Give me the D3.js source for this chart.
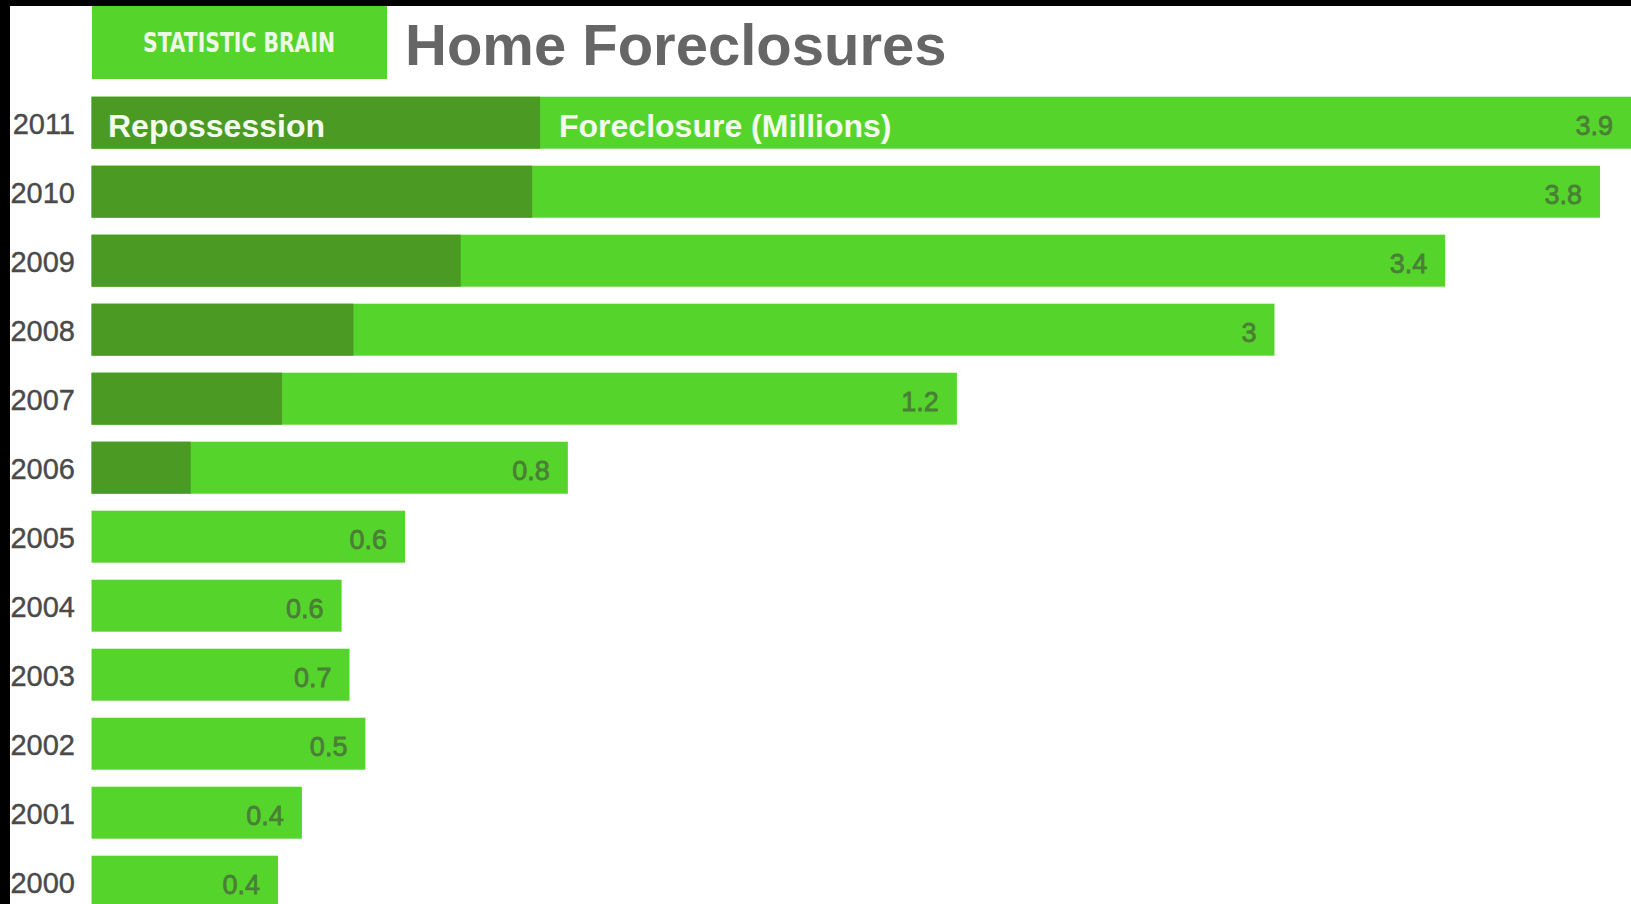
<!DOCTYPE html>
<html>
<head>
<meta charset="utf-8">
<script src="https://cdn.jsdelivr.net/npm/d3@7"></script>
<style>
  html, body { margin: 0; padding: 0; background: #000; }
  svg { display: block; }
</style>
</head>
<body>
<svg width="1631" height="904"></svg>
<script>
// data, top bar first
var years = ['2011','2010','2009','2008','2007','2006','2005','2004','2003','2002','2001','2000'];
// bar lengths as drawn in the picture (millions)
var foreclosure = [3.92, 3.8, 3.41, 2.98, 2.18, 1.2, 0.79, 0.63, 0.65, 0.69, 0.53, 0.47];
var repossession = [1.13, 1.11, 0.93, 0.66, 0.48, 0.25, 0, 0, 0, 0, 0, 0];
// printed values
var labels = ['3.9','3.8','3.4','3','1.2','0.8','0.6','0.6','0.7','0.5','0.4','0.4'];

var rows = years.map(function(y, i) {
    return {year: y, fore: foreclosure[i], repo: repossession[i], label: labels[i]};
});

var bright = '#55d52b';
var dark = '#4a9a24';

var svg = d3.select('svg');

// white page with black frame at top and left
svg.append('rect')
    .attr('x', 10).attr('y', 6)
    .attr('width', 1621).attr('height', 898)
    .attr('fill', 'white');

var x = d3.scaleLinear().domain([0, 3.8]).range([91.5, 1600]);
var pi = 17 / 69;
var y = d3.scaleBand().domain(years)
    .range([96.7, 96.7 + 69 * (12 - pi)])
    .paddingInner(pi).paddingOuter(0);

// header
svg.append('rect')
    .attr('x', 92).attr('y', 6)
    .attr('width', 295).attr('height', 73)
    .attr('fill', bright);

svg.append('text')
    .attr('x', 239).attr('y', 52)
    .attr('text-anchor', 'middle')
    .attr('font-family', '"Liberation Sans Narrow", "DejaVu Sans Condensed", sans-serif')
    .attr('font-weight', 'bold')
    .attr('font-size', 27)
    .attr('textLength', 192)
    .attr('lengthAdjust', 'spacingAndGlyphs')
    .attr('fill', '#eef8e6')
    .text('STATISTIC BRAIN');

svg.append('text')
    .attr('x', 405).attr('y', 65)
    .attr('font-family', '"Liberation Sans", Arial, sans-serif')
    .attr('font-weight', 'bold')
    .attr('font-size', 58)
    .attr('fill', '#666')
    .text('Home Foreclosures');

var g = svg.selectAll('.row')
    .data(rows)
    .enter()
    .append('g')
    .attr('class', 'row');

g.append('rect')
    .attr('x', x(0))
    .attr('y', function(d) { return y(d.year); })
    .attr('width', function(d) { return x(d.fore) - x(0); })
    .attr('height', y.bandwidth())
    .attr('fill', bright);

g.filter(function(d) { return d.repo > 0; })
    .append('rect')
    .attr('x', x(0))
    .attr('y', function(d) { return y(d.year); })
    .attr('width', function(d) { return x(d.repo) - x(0); })
    .attr('height', y.bandwidth())
    .attr('fill', dark);

g.append('text')
    .attr('x', 75)
    .attr('y', function(d) { return y(d.year) + y.bandwidth() / 2 + 11; })
    .attr('text-anchor', 'end')
    .attr('font-family', '"Liberation Sans", Arial, sans-serif')
    .attr('font-size', 29)
    .attr('fill', '#4a4a4a')
    .attr('stroke', '#4a4a4a')
    .attr('stroke-width', 0.4)
    .text(function(d) { return d.year; });

g.append('text')
    .attr('x', function(d) { return Math.min(x(d.fore), 1631) - 18; })
    .attr('y', function(d) { return y(d.year) + y.bandwidth() / 2 + 12; })
    .attr('text-anchor', 'end')
    .attr('font-family', '"Liberation Sans", Arial, sans-serif')
    .attr('font-size', 27)
    .attr('fill', '#4a7f36')
    .attr('stroke', '#4a7f36')
    .attr('stroke-width', 0.8)
    .text(function(d) { return d.label; });

// legend text inside the top bar
svg.append('text')
    .attr('x', 108)
    .attr('y', y(years[0]) + 40)
    .attr('font-family', '"Liberation Sans", Arial, sans-serif')
    .attr('font-weight', 'bold')
    .attr('font-size', 32)
    .attr('fill', '#f2fbec')
    .text('Repossession');

svg.append('text')
    .attr('x', 559)
    .attr('y', y(years[0]) + 40)
    .attr('font-family', '"Liberation Sans", Arial, sans-serif')
    .attr('font-weight', 'bold')
    .attr('font-size', 32)
    .attr('fill', '#f2fbec')
    .text('Foreclosure (Millions)');
</script>
</body>
</html>
